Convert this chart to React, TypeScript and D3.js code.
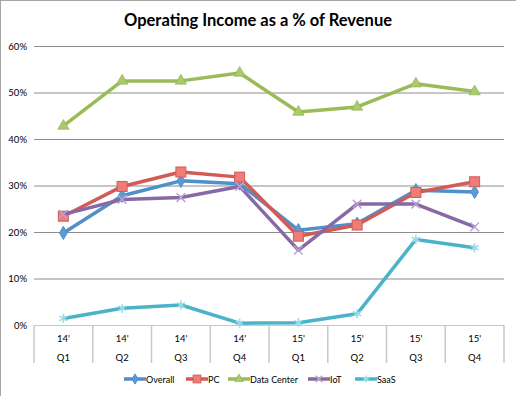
import React, { useRef, useEffect } from 'react'
import * as d3 from 'd3'

const years = ["14'", "14'", "14'", "14'", "15'", "15'", "15'", "15'"]
const quarters = ['Q1', 'Q2', 'Q3', 'Q4', 'Q1', 'Q2', 'Q3', 'Q4']
const yTicks = [0, 10, 20, 30, 40, 50, 60]

const overall = [19.8, 27.8, 31.0, 30.4, 20.4, 21.8, 29.0, 28.6]
const pc = [23.4, 29.8, 32.9, 31.8, 19.1, 21.5, 28.5, 30.8]
const dataCenter = [42.8, 52.5, 52.5, 54.2, 45.8, 46.9, 51.9, 50.2]
const iot = [23.8, 27.0, 27.4, 29.8, 16.1, 26.0, 26.0, 21.1]
const saas = [1.4, 3.6, 4.3, 0.4, 0.5, 2.4, 18.4, 16.6]

const seriesNames = ['Overall', 'PC', 'Data Center', 'IoT', 'SaaS']

type Series = { name: string; values: number[]; color: string; fill: string; marker: string }

export default function App() {
  const ref = useRef<SVGSVGElement>(null)
  const width = 516
  const height = 396
  const margin = { top: 46, right: 12, bottom: 71, left: 34 }

  useEffect(() => {
    const svg = d3.select(ref.current)
    svg.selectAll('*').remove()

    const series: Series[] = [
      { name: seriesNames[0], values: overall, color: '#4f8fca', fill: '#5b9bd5', marker: 'diamond' },
      { name: seriesNames[1], values: pc, color: '#d35a57', fill: '#f07c78', marker: 'square' },
      { name: seriesNames[2], values: dataCenter, color: '#9bbb59', fill: '#a9cb6a', marker: 'triangle' },
      { name: seriesNames[3], values: iot, color: '#8869a5', fill: '#8869a5', marker: 'x' },
      { name: seriesNames[4], values: saas, color: '#4bb3c8', fill: '#4bb3c8', marker: 'star' },
    ]

    svg.append('rect').attr('width', width).attr('height', height).attr('fill', '#fff')
    // chart frame
    svg.append('line').attr('x1', 0).attr('x2', width).attr('y1', 0.5).attr('y2', 0.5)
      .attr('stroke', '#a6a6a6')
    svg.append('line').attr('x1', 0.5).attr('x2', 0.5).attr('y1', 0).attr('y2', height)
      .attr('stroke', '#a6a6a6')

    const x = d3.scaleBand<number>()
      .domain(d3.range(quarters.length))
      .range([margin.left, width - margin.right])

    const y = d3.scaleLinear()
      .domain([0, 60])
      .range([height - margin.bottom, margin.top])

    svg.append('text')
      .attr('x', 258).attr('y', 26)
      .attr('text-anchor', 'middle')
      .attr('font-family', 'Lato, sans-serif')
      .attr('font-weight', 'bold')
      .attr('font-size', 16.5)
      .text('Operating Income as a % of Revenue')

    // gridlines + y labels
    const yAxis = svg.append('g')
      .attr('transform', `translate(${margin.left},0)`)
      .call(d3.axisLeft(y).tickValues(yTicks).tickSize(-(width - margin.left - margin.right))
        .tickFormat((d) => d + '%'))
    yAxis.select('.domain').remove()
    yAxis.selectAll('line').attr('stroke', '#8c8c8c')
    yAxis.selectAll('.tick').filter((d) => d === 0).select('line').attr('stroke', '#c8c8c8')
    yAxis.selectAll('text')
      .attr('x', -7).attr('font-family', 'Lato, sans-serif').attr('font-size', 9.5).attr('fill', '#000')

    // category axis with dividers
    const base = y(0)
    const cat = svg.append('g')
    d3.range(quarters.length + 1).forEach((i) => {
      const xp = i < quarters.length ? x(i)! : x.range()[1]
      cat.append('line').attr('x1', xp).attr('x2', xp).attr('y1', base).attr('y2', base + 38)
        .attr('stroke', '#c8c8c8').attr('stroke-width', 1.5)
    })
    cat.selectAll('text.yr').data(years).join('text')
      .attr('x', (d, i) => x(i)! + x.bandwidth() / 2)
      .attr('y', base + 17)
      .attr('text-anchor', 'middle').attr('font-family', 'Lato, sans-serif').attr('font-size', 9.5)
      .text((d) => d)
    cat.selectAll('text.q').data(quarters).join('text')
      .attr('x', (d, i) => x(i)! + x.bandwidth() / 2)
      .attr('y', base + 36)
      .attr('text-anchor', 'middle').attr('font-family', 'Lato, sans-serif').attr('font-size', 9.5)
      .text((d) => d)

    const drawMarker = (g: any, s: Series, cx: number, cy: number, k = 1) => {
      if (s.marker === 'diamond') {
        g.append('path').attr('d', d3.symbol(d3.symbolDiamond, 50 * k)())
          .attr('transform', `translate(${cx},${cy})`).attr('fill', s.fill).attr('stroke', s.color)
      } else if (s.marker === 'square') {
        const r = 5 * Math.sqrt(k)
        g.append('rect').attr('x', cx - r).attr('y', cy - r).attr('width', 2 * r).attr('height', 2 * r)
          .attr('fill', s.fill).attr('stroke', s.color)
      } else if (s.marker === 'triangle') {
        g.append('path').attr('d', d3.symbol(d3.symbolTriangle, 55 * k)())
          .attr('transform', `translate(${cx},${cy})`).attr('fill', s.fill).attr('stroke', '#8aab4a')
          .attr('stroke-width', 0.6)
      } else if (s.marker === 'x') {
        g.append('path').attr('d', d3.symbol(d3.symbolTimes, 50 * k)())
          .attr('transform', `translate(${cx},${cy})`).attr('fill', 'none').attr('stroke', '#b9a3cf')
          .attr('stroke-width', 1.5)
      } else {
        g.append('path').attr('d', d3.symbol(d3.symbolAsterisk, 60 * k)())
          .attr('transform', `translate(${cx},${cy})`).attr('fill', 'none').attr('stroke', '#9adbe6')
          .attr('stroke-width', 1.5)
      }
    }

    const line = d3.line<number>()
      .x((d, i) => x(i)! + x.bandwidth() / 2)
      .y((d) => y(d))

    series.forEach((s) => {
      const g = svg.append('g')
      g.append('path').datum(s.values).attr('d', line)
        .attr('fill', 'none').attr('stroke', s.color).attr('stroke-width', 3.5)
        .attr('stroke-linejoin', 'round')
      s.values.forEach((v, i) => drawMarker(g, s, x(i)! + x.bandwidth() / 2, y(v)))
    })

    // legend
    const legendX = [124, 186, 228, 308, 355]
    series.forEach((s, i) => {
      const g = svg.append('g')
      const lx = legendX[i]
      g.append('line').attr('x1', lx).attr('x2', lx + 22).attr('y1', 379).attr('y2', 379)
        .attr('stroke', s.color).attr('stroke-width', 3.5)
      drawMarker(g, s, lx + 11, 379, 0.6)
      g.append('text').attr('x', lx + 22).attr('y', 382.5)
        .attr('font-family', 'Lato, sans-serif').attr('font-size', 9)
        .text(s.name)
    })
  }, [])

  return (
    <svg ref={ref} width={width} height={height}
      style={{ position: 'absolute', left: 0, top: 0, display: 'block' }} />
  )
}
